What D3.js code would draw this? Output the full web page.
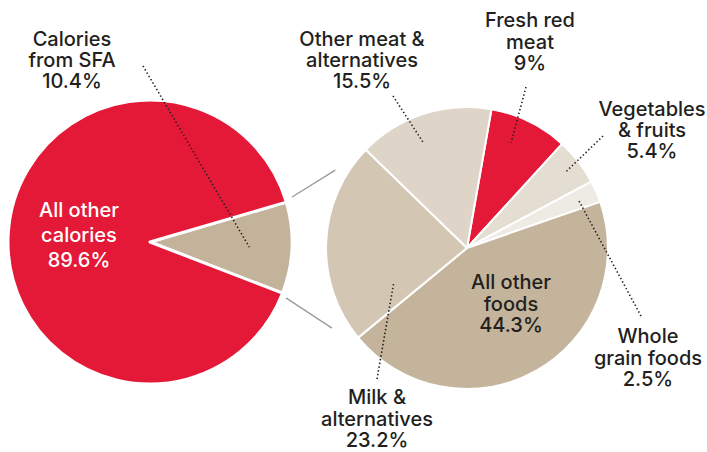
<!DOCTYPE html>
<html>
<head>
<meta charset="utf-8">
<script src="https://cdn.jsdelivr.net/npm/d3@7"></script>
<style>
  body { margin: 0; background: #fff; }
  svg text { font-family: Inter, "Liberation Sans", Arial, sans-serif; font-weight: 500; font-size: 20px; fill: #231f20; }
</style>
</head>
<body>
<svg id="chart" width="707" height="452"></svg>
<script>
// left pie: share of total calories
const leftCategories = ["Calories from SFA", "All other calories"];
const leftValues = [10.4, 89.6];

// right pie: where the SFA calories come from (clockwise from the top)
const rightCategories = ["Fresh red meat", "Vegetables & fruits", "Whole grain foods",
                         "All other foods", "Milk & alternatives", "Other meat & alternatives"];
const rightValues = [9, 5.4, 2.5, 44.3, 23.2, 15.5];

const deg = Math.PI / 180;
const svg = d3.select("#chart");

// pie geometry
const L = {cx: 150, cy: 242, r: 142, start: 73.7 * deg};
const R = {cx: 467, cy: 248, r: 141, start: 10 * deg};

const colors = {
  "Calories from SFA": "#c4b39b",
  "All other calories": "#e31937",
  "Fresh red meat": "#e31937",
  "Vegetables & fruits": "#e4ddd2",
  "Whole grain foods": "#eeeae4",
  "All other foods": "#c4b49b",
  "Milk & alternatives": "#d3c7b4",
  "Other meat & alternatives": "#ded5c8"
};

// label layout: lines, centre x, first baseline, line height, leader (outer point, angle offset, radius fraction)
const layout = {
  "Calories from SFA":        {lines: ["Calories", "from SFA"], x: 72, y: 46, lh: 21, out: [143, 66], da: 0.5, rf: 0.70},
  "All other calories":       {lines: ["All other", "calories"], x: 79, y: 217, lh: 25, white: true},
  "Other meat & alternatives":{lines: ["Other meat &", "alternatives"], x: 362, y: 46, lh: 21, out: [393, 96], da: -4.6, rf: 0.81},
  "Fresh red meat":           {lines: ["Fresh red", "meat"], x: 530, y: 27, lh: 21.5, out: [526, 87], da: -3.5, rf: 0.81},
  "Vegetables & fruits":      {lines: ["Vegetables", "& fruits"], x: 652, y: 116, lh: 21, out: [603, 136], da: 0.2, rf: 0.89},
  "Whole grain foods":        {lines: ["Whole", "grain foods"], x: 648, y: 343, lh: 21.5, out: [641, 316], da: -0.3, rf: 0.86},
  "All other foods":          {lines: ["All other", "foods"], x: 511, y: 289, lh: 21.5},
  "Milk & alternatives":      {lines: ["Milk &", "alternatives"], x: 377, y: 404, lh: 21.5, out: [377, 379], da: -27, rf: 0.57}
};

function polar(c, a, r) {
  return [c.cx + r * Math.sin(a), c.cy - r * Math.cos(a)];
}

function drawPie(c, cats, vals, strokeW) {
  const pie = d3.pie().sort(null).value(d => d.v)
    .startAngle(c.start).endAngle(c.start + 2 * Math.PI);
  const arc = d3.arc().innerRadius(0).outerRadius(c.r);
  const arcs = pie(cats.map((k, i) => ({k: k, v: vals[i]})));
  svg.append("g")
    .attr("transform", "translate(" + c.cx + "," + c.cy + ")")
    .selectAll("path")
    .data(arcs)
    .enter().append("path")
      .attr("d", arc)
      .attr("fill", d => colors[d.data.k])
      .attr("stroke", "#fff")
      .attr("stroke-width", strokeW)
      .attr("stroke-linejoin", "round");
  return arcs;
}

const leftArcs = drawPie(L, leftCategories, leftValues, 3);
const rightArcs = drawPie(R, rightCategories, rightValues, 2);

// grey connectors from the SFA wedge to the right pie
const sfa = leftArcs[0];
const conn = [
  [polar(L, sfa.startAngle - 1.3 * deg, L.r + 7), polar(R, -59.4 * deg, R.r + 12)],
  [polar(L, sfa.endAngle + 1.2 * deg, L.r + 5), polar(R, 239.3 * deg, R.r + 16)]
];
svg.selectAll(".conn")
  .data(conn)
  .enter().append("line")
    .attr("class", "conn")
    .attr("x1", d => d[0][0]).attr("y1", d => d[0][1])
    .attr("x2", d => d[1][0]).attr("y2", d => d[1][1])
    .attr("stroke", "#9a9a9a")
    .attr("stroke-width", 1.3);

// dotted leaders + labels
function labels(c, arcs) {
  arcs.forEach(d => {
    const o = layout[d.data.k];
    if (o.out) {
      const mid = (d.startAngle + d.endAngle) / 2 + o.da * deg;
      const p = polar(c, mid, o.rf * c.r);
      svg.append("line")
        .attr("x1", o.out[0]).attr("y1", o.out[1])
        .attr("x2", p[0]).attr("y2", p[1])
        .attr("stroke", "#231f20")
        .attr("stroke-width", 1.6)
        .attr("stroke-dasharray", "1.4,2.4");
    }
    const t = svg.append("text")
      .attr("text-anchor", "middle")
      .style("fill", o.white ? "#fff" : "#231f20");
    o.lines.concat([d.data.v + "%"]).forEach((s, i) => {
      t.append("tspan").attr("x", o.x).attr("y", o.y + i * o.lh).text(s);
    });
  });
}
labels(L, leftArcs);
labels(R, rightArcs);
</script>
</body>
</html>
